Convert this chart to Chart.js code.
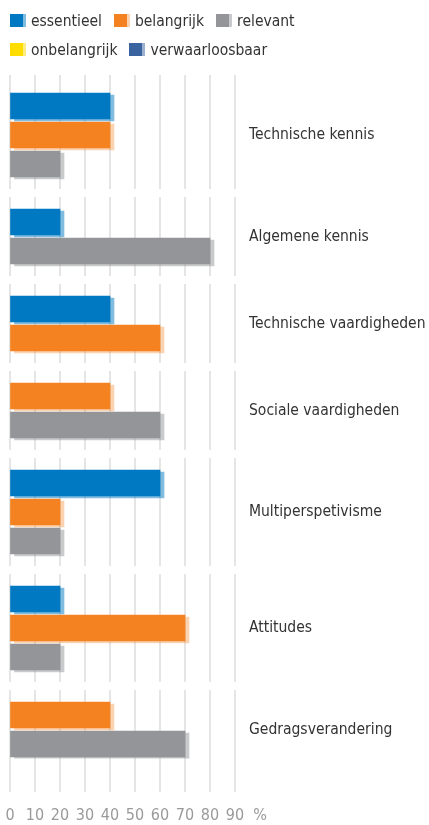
<!DOCTYPE html>
<html>
<head>
<meta charset="utf-8">
<script src="https://cdn.jsdelivr.net/npm/chart.js@4.4.1/dist/chart.umd.min.js"></script>
<style>
  html, body { margin: 0; padding: 0; background: #fff; }
  #wrap { position: relative; width: 429px; height: 825px; }
  #legend {
    position: absolute; top: 6px; left: 10px; width: 300px;
    display: flex; flex-wrap: wrap; column-gap: 12px; row-gap: 0;
    font-family: 'DejaVu Sans Condensed', 'DejaVu Sans', sans-serif;
    font-stretch: condensed;
    font-size: 15.5px; color: #333;
  }
  .item { display: flex; align-items: center; height: 29px; }
  .swatch { width: 13px; height: 13px; margin-right: 8px; }
</style>
</head>
<body>
<div id="wrap">
  <canvas id="chart" width="429" height="825"></canvas>
  <div id="legend"></div>
</div>
<script>
// data (percentages), null = no bar
const categories = ['Technische kennis', 'Algemene kennis', 'Technische vaardigheden',
  'Sociale vaardigheden', 'Multiperspetivisme', 'Attitudes', 'Gedragsverandering'];
const essentieel      = [40, 20, 40, null, 60, 20, null];
const belangrijk      = [40, null, 60, 40, 20, 70, 40];
const relevant        = [20, 80, null, 60, 20, 20, 70];
const onbelangrijk    = [null, null, null, null, null, null, null];
const verwaarloosbaar = [null, null, null, null, null, null, null];
const xTicks = [0, 10, 20, 30, 40, 50, 60, 70, 80, 90];
const unitLabel = '%';

const seriesNames = ['essentieel', 'belangrijk', 'relevant', 'onbelangrijk', 'verwaarloosbaar'];
const seriesValues = [essentieel, belangrijk, relevant, onbelangrijk, verwaarloosbaar];
const colors = ['#0079c2', '#f58220', '#939598', '#ffdd00', '#3a64a0'];
const shadows = ['rgba(0,121,194,0.5)', 'rgba(245,130,32,0.35)', 'rgba(147,149,152,0.5)',
  'rgba(255,221,0,0.5)', 'rgba(58,100,160,0.5)'];
const FONT = "'DejaVu Sans Condensed', 'DejaVu Sans', sans-serif";

// one row per existing bar, with an empty spacer row between categories
const rows = [];
const groups = [];
const spacers = [];
categories.forEach((cat, ci) => {
  if (ci > 0) { spacers.push(rows.length); rows.push(null); }
  const g = { label: cat, rows: [] };
  seriesValues.forEach((vals, si) => {
    if (vals[ci] !== null) { g.rows.push(rows.length); rows.push({ ci, si }); }
  });
  groups.push(g);
});

const datasets = seriesNames.map((name, si) => ({
  label: name,
  data: rows.map(r => (r && r.si === si) ? seriesValues[si][r.ci] : null),
  backgroundColor: colors[si],
  borderWidth: 0,
  barThickness: 26,
  skipNull: true
}));

// legend
const legend = document.getElementById('legend');
seriesNames.forEach((name, si) => {
  const it = document.createElement('div');
  it.className = 'item';
  it.innerHTML = '<span class="swatch" style="background:' + colors[si] +
    ';box-shadow:3px 0 0 ' + shadows[si] + '"></span>' + name;
  legend.appendChild(it);
});

const barShadow = {
  id: 'barShadow',
  beforeDatasetDraw(chart, args) {
    const ctx = chart.ctx;
    ctx.save();
    ctx.shadowColor = shadows[args.index];
    ctx.shadowOffsetX = 4;
    ctx.shadowOffsetY = 2;
    ctx.shadowBlur = 0;
  },
  afterDatasetDraw(chart) { chart.ctx.restore(); }
};

// vertical grid lines, broken between the categories
const splitGrid = {
  id: 'splitGrid',
  beforeDatasetsDraw(chart) {
    const { ctx, scales: { x, y } } = chart;
    const top = y.getPixelForValue(0) - 31;
    const bottom = y.getPixelForValue(rows.length - 1) + 48;
    const cuts = spacers.map(s => y.getPixelForValue(s));
    ctx.save();
    ctx.strokeStyle = '#dcdcdc';
    ctx.lineWidth = 1.5;
    xTicks.forEach(v => {
      const px = x.getPixelForValue(v);
      let start = top;
      cuts.concat([null]).forEach(c => {
        const end = c === null ? bottom : c - 4;
        ctx.beginPath();
        ctx.moveTo(px, start);
        ctx.lineTo(px, end);
        ctx.stroke();
        if (c !== null) start = c + 4;
      });
    });
    ctx.restore();
  }
};

const groupLabels = {
  id: 'groupLabels',
  afterDraw(chart) {
    const { ctx, scales: { y }, chartArea } = chart;
    ctx.save();
    ctx.font = '15.5px ' + FONT;
    ctx.fillStyle = '#333';
    ctx.textAlign = 'left';
    ctx.textBaseline = 'middle';
    groups.forEach(g => {
      const ys = g.rows.map(r => y.getPixelForValue(r));
      const cy = (ys[0] + ys[ys.length - 1]) / 2;
      ctx.fillText(g.label, chartArea.right - 11, cy);
    });
    ctx.restore();
  }
};

new Chart(document.getElementById('chart'), {
  type: 'bar',
  data: { labels: rows.map((r, i) => String(i)), datasets },
  options: {
    indexAxis: 'y',
    responsive: false,
    animation: false,
    layout: { padding: { left: 10, right: 169, top: 91.5, bottom: 0 } },
    plugins: { legend: { display: false }, tooltip: { enabled: false } },
    scales: {
      y: { display: false },
      x: {
        min: 0, max: 100,
        grid: { display: true, color: 'rgba(0,0,0,0)', drawOnChartArea: false, drawTicks: true, tickLength: 46 },
        border: { display: false },
        afterFit(scale) { scale.height = 66.5; },
        ticks: {
          stepSize: 10,
          padding: 2,
          autoSkip: false,
          maxRotation: 0,
          minRotation: 0,
          color: '#9a9a9a',
          font: { family: FONT, size: 16 },
          callback: v => v === 100 ? unitLabel : (xTicks.includes(v) ? String(v) : '')
        }
      }
    }
  },
  plugins: [barShadow, splitGrid, groupLabels]
});
</script>
</body>
</html>
